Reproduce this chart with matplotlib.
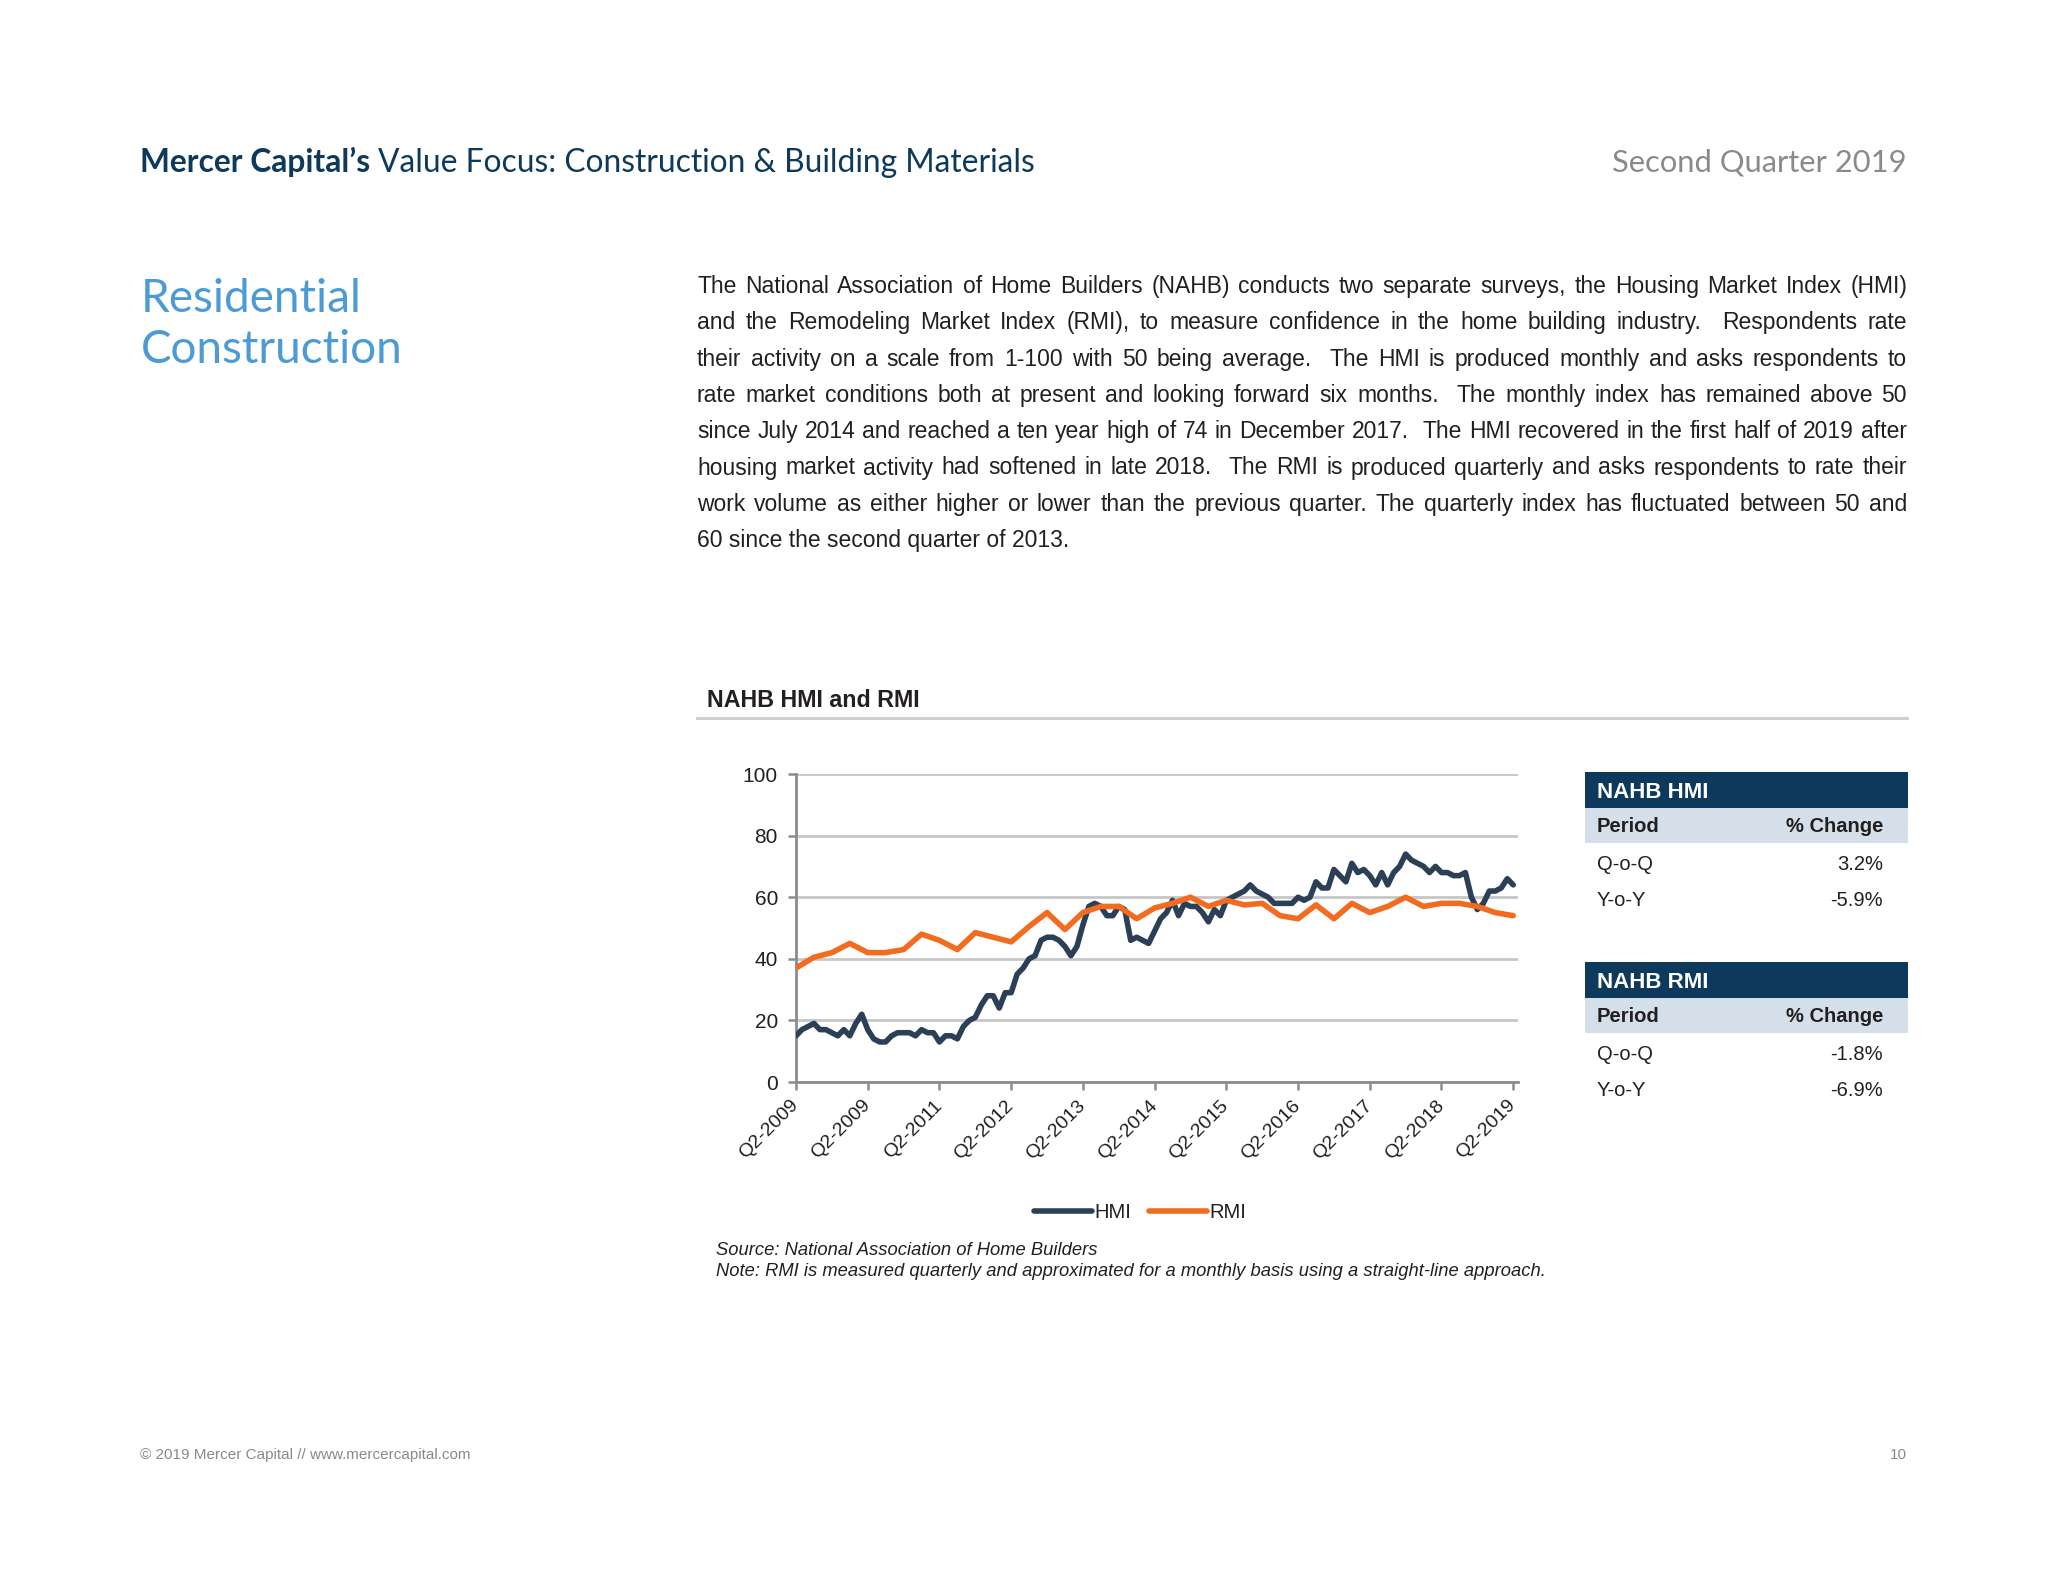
import matplotlib
matplotlib.use("Agg")
import matplotlib.pyplot as plt
from matplotlib.patches import Rectangle
from matplotlib.lines import Line2D
import numpy as np

# ---- data ----
# NAHB HMI, monthly, Jun-2009 .. Jun-2019
hmi = [15, 17, 18, 19, 17, 17, 16,
       15, 17, 15, 19, 22, 17, 14, 13, 13, 15, 16, 16,
       16, 15, 17, 16, 16, 13, 15, 15, 14, 18, 20, 21,
       25, 28, 28, 24, 29, 29, 35, 37, 40, 41, 46, 47,
       47, 46, 44, 41, 44, 51, 57, 58, 57, 54, 54, 57,
       56, 46, 47, 46, 45, 49, 53, 55, 59, 54, 58, 57,
       57, 55, 52, 56, 54, 59, 60, 61, 62, 64, 62, 61,
       60, 58, 58, 58, 58, 60, 59, 60, 65, 63, 63, 69,
       67, 65, 71, 68, 69, 67, 64, 68, 64, 68, 70, 74,
       72, 71, 70, 68, 70, 68, 68, 67, 67, 68, 60, 56,
       58, 62, 62, 63, 66, 64]
# NAHB RMI, quarterly, Q2-2009 .. Q2-2019 (straight line between quarters)
rmi = [37, 40.5, 42, 45, 42, 42, 43, 48, 46, 43, 48.5, 47, 45.5, 50.5,
       55, 49.5, 55, 57, 57, 53, 56.5, 58, 60, 57, 59, 57.5, 58, 54, 53,
       57.5, 53, 58, 55, 57, 60, 57, 58, 58, 57, 55, 54]
x_labels = ["Q2-2009", "Q2-2009", "Q2-2011", "Q2-2012", "Q2-2013", "Q2-2014",
            "Q2-2015", "Q2-2016", "Q2-2017", "Q2-2018", "Q2-2019"]
y_ticks = [0, 20, 40, 60, 80, 100]
hmi_table = [("Q-o-Q", "3.2%"), ("Y-o-Y", "-5.9%")]
rmi_table = [("Q-o-Q", "-1.8%"), ("Y-o-Y", "-6.9%")]

paragraph = [
    "The National Association of Home Builders (NAHB) conducts two separate surveys, the Housing Market Index (HMI)",
    "and the Remodeling Market Index (RMI), to measure confidence in the home building industry.  Respondents rate",
    "their activity on a scale from 1-100 with 50 being average.  The HMI is produced monthly and asks respondents to",
    "rate market conditions both at present and looking forward six months.  The monthly index has remained above 50",
    "since July 2014 and reached a ten year high of 74 in December 2017.  The HMI recovered in the first half of 2019 after",
    "housing market activity had softened in late 2018.  The RMI is produced quarterly and asks respondents to rate their",
    "work volume as either higher or lower than the previous quarter. The quarterly index has fluctuated between 50 and",
    "60 since the second quarter of 2013.",
]

NAVY = "#0d3a5c"
BLUE = "#4d9bd5"
GREY = "#8c8c8c"
TXT = "#231f20"
HMI_C = "#2b3f57"
RMI_C = "#f26b1f"
HEAD = "Lato"
BODY = "Liberation Sans"

plt.rcParams["font.family"] = [BODY, "DejaVu Sans"]

W, H = 2048, 1582
fig = plt.figure(figsize=(W / 100, H / 100), dpi=100)
fig.patch.set_facecolor("white")
rend = fig.canvas.get_renderer()


def fx(x):
    return x / W


def fy(y):
    return 1 - y / H


def width_of(s, **kw):
    t = fig.text(0, 0, s, **kw)
    w = t.get_window_extent(rend).width
    t.remove()
    return w


def fit(s, target, **kw):
    return 10 * target / width_of(s, fontsize=10, **kw)


def put(x, y, s, **kw):
    return fig.text(fx(x), fy(y), s, **kw)


# ---- page header ----
b_part, r_part = "Mercer Capital\u2019s", "Value Focus: Construction & Building Materials"
hs = fit(b_part + " " + r_part, 892, family=HEAD)
put(140, 172, b_part, family=HEAD, fontsize=hs, weight="bold", color=NAVY, va="baseline")
bw = width_of(b_part, family=HEAD, fontsize=hs, weight="bold")
sp = width_of("a a", family=HEAD, fontsize=hs) - width_of("aa", family=HEAD, fontsize=hs)
put(140 + bw + sp, 172, r_part, family=HEAD, fontsize=hs, color=NAVY, va="baseline")
qs = fit("Second Quarter 2019", 295, family=HEAD)
put(1907, 172, "Second Quarter 2019", family=HEAD, fontsize=qs, color="#8a8a8a",
    ha="right", va="baseline")

# ---- section title ----
ts = fit("Construction", 263, family=HEAD)
put(141, 312, "Residential", family=HEAD, fontsize=ts, color=BLUE, va="baseline")
put(141, 363, "Construction", family=HEAD, fontsize=ts, color=BLUE, va="baseline")

# ---- justified paragraph ----
x0, x1 = 697, 1907
ps = min(fit(l.replace("  ", " "), 1195, family=BODY) for l in paragraph)
for i, line in enumerate(paragraph):
    yb = 293 + i * 36.3
    if i == len(paragraph) - 1:
        put(x0, yb, line, fontsize=ps, color=TXT, va="baseline")
        continue
    words = line.split(" ")
    ws = [width_of(w, fontsize=ps) if w else 0 for w in words]
    gap = (x1 - x0 - sum(ws)) / (len(words) - 1)
    x = x0
    for w, wd in zip(words, ws):
        if w:
            put(x, yb, w, fontsize=ps, color=TXT, va="baseline")
        x += wd + gap

# ---- chart title ----
cs = fit("NAHB HMI and RMI", 212, weight="bold")
put(707, 707, "NAHB HMI and RMI", fontsize=cs, weight="bold", color=TXT, va="baseline")
fig.add_artist(Line2D([fx(697), fx(1907)], [fy(718), fy(718)], color="#cfcfcf", lw=2.2))

# ---- line chart ----
ax = fig.add_axes([fx(796), fy(1082), (1518 - 796) / W, (1082 - 774) / H])
months = np.arange(len(hmi))
quarters = np.arange(len(rmi)) * 3
ax.plot(months, hmi, color=HMI_C, lw=4.0, solid_joinstyle="round",
        solid_capstyle="round", label="HMI", zorder=3)
ax.plot(quarters, rmi, color=RMI_C, lw=4.0, solid_joinstyle="round",
        solid_capstyle="round", label="RMI", zorder=4)
ax.set_xlim(0, 120.8)
ax.set_ylim(0, 100)
ax.set_yticks(y_ticks)
ax.set_xticks(np.arange(0, 121, 12))
ax.set_xticklabels(x_labels, rotation=45, ha="right", va="center", rotation_mode="anchor")
ax.yaxis.grid(True, color="#c6c6c6", lw=2)
ax.set_axisbelow(True)
for s in ["top", "right"]:
    ax.spines[s].set_visible(False)
for s in ["left", "bottom"]:
    ax.spines[s].set_color(GREY)
    ax.spines[s].set_linewidth(2)
ax.tick_params(colors=GREY, width=1.8, length=6, labelcolor=TXT)
ax.tick_params(axis="y", labelsize=15, pad=7)
ax.tick_params(axis="x", labelsize=14, pad=9)

fig.legend(*ax.get_legend_handles_labels(), loc="center",
           bbox_to_anchor=(fx(1140), fy(1213)), ncol=2, frameon=False,
           fontsize=14.5, handlelength=2.9, handletextpad=0.1, columnspacing=0.9,
           labelcolor=TXT)

ns = fit("Note: RMI is measured quarterly and approximated for a monthly basis using a straight-line approach.",
         828, style="italic")
put(716, 1255, "Source: National Association of Home Builders", fontsize=ns,
    style="italic", color=TXT, va="baseline")
put(716, 1276, "Note: RMI is measured quarterly and approximated for a monthly basis using a straight-line approach.",
    fontsize=ns, style="italic", color=TXT, va="baseline")


# ---- side tables ----
def table(top, title, rows):
    left, right = 1585, 1908
    fig.add_artist(Rectangle((fx(left), fy(top + 36)), (right - left) / W, 36 / H,
                             transform=fig.transFigure, color=NAVY, lw=0))
    fig.add_artist(Rectangle((fx(left), fy(top + 71)), (right - left) / W, 35 / H,
                             transform=fig.transFigure, color="#d4dfe9", lw=0))
    put(1597, top + 18 + 8, title, fontsize=16, weight="bold", color="white", va="baseline")
    put(1597, top + 53 + 7, "Period", fontsize=14.5, weight="bold", color=TXT, va="baseline")
    put(1883, top + 53 + 7, "% Change", fontsize=14.5, weight="bold", color=TXT,
        ha="right", va="baseline")
    for k, (p, v) in enumerate(rows):
        yb = top + 91 + k * 36 + 7
        put(1597, yb, p, fontsize=14.5, color=TXT, va="baseline")
        put(1883, yb, v, fontsize=14.5, color=TXT, ha="right", va="baseline")


table(772, "NAHB HMI", hmi_table)
table(962, "NAHB RMI", rmi_table)

# ---- footer ----
fs = fit("\u00a9 2019 Mercer Capital // www.mercercapital.com", 331)
put(140, 1459, "\u00a9 2019 Mercer Capital // www.mercercapital.com", fontsize=fs,
    color="#8a8a8a", va="baseline")
put(1907, 1459, "10", fontsize=fs, color="#8a8a8a", ha="right", va="baseline")

fig.savefig("out.png", dpi=100)
